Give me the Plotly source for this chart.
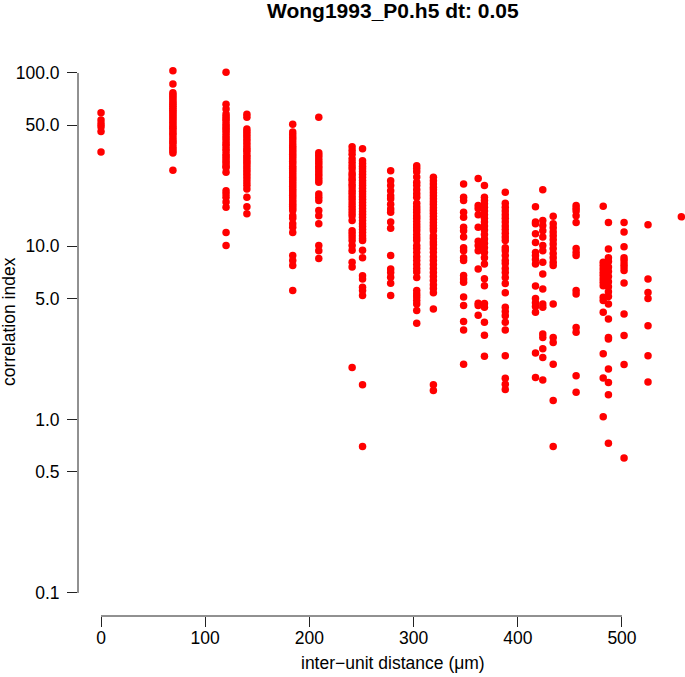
import plotly.graph_objects as go

# Inter-unit distances (um) and correlation indices
ci_0 = [59, 53.5, 51, 49, 46, 35]
ci_69 = [103, 86.5, 77, 75, 73, 71, 69, 67, 65.5, 64, 62.5, 61, 59.5, 58, 56.5, 55, 53.5,
         52, 50.5, 49, 48, 46.5, 45, 44, 42.5, 41, 40, 39, 37.5, 36.5, 35.5, 34.5, 27.5]
ci_120 = [101, 66, 62, 58, 56, 54.5, 53, 51, 49.5, 48, 46.5, 45, 43.5, 42, 40.5, 39, 38,
          36.5, 35.5, 34, 33, 32, 31, 30, 29, 28.5, 26.7, 20.9, 20.1, 19.2, 18.0, 16.8, 12.0, 10.1]
ci_140 = [57.8, 55.5, 47.5, 46, 44.5, 43, 41.5, 40, 38.5, 37, 36, 35, 33.5, 32.5, 31.5, 30.5,
          29.5, 28.5, 27.5, 26.5, 25.5, 24.5, 23.5, 22.5, 21.4, 19.2, 16.9, 15.4]
ci_184 = [50.6, 45.6, 44, 42.5, 41, 39.5, 38, 37, 36, 35, 34, 33, 32, 31, 30, 29, 28.2, 27.4,
          26.6, 25.8, 25, 24.3, 23.6, 22.9, 22.2, 21.5, 20.9, 20.3, 19.7, 19.1, 18.5, 18, 17.5,
          17, 16.5, 16.1, 15.0, 14.5, 13.5, 12.9, 12.0, 8.85, 8.27, 7.74, 5.55]
ci_209 = [55.5, 34.7, 33.5, 32.3, 31.2, 30.1, 29, 28, 27, 26, 25.1, 24.2, 23.4, 20.0, 19.2,
          18.4, 16.1, 15.0, 13.5, 10.1, 9.44, 8.5]
ci_241 = [37.5, 35.7, 34, 32, 30.5, 29.2, 28, 26.5, 25.6, 24.5, 23.9, 22.8, 22.0, 21, 20.2,
          19.4, 18.6, 17.8, 17.0, 16.3, 15.6, 15.0, 14.1, 12.3, 11.8, 11.3, 10.8, 10.1, 9.5,
          8.1, 7.6, 2.0]
ci_251 = [36.6, 31.2, 30, 29, 28, 27, 26, 25, 24, 23.2, 22.4, 21.6, 20.8, 20, 19.3, 18.6,
          17.9, 17.2, 16.5, 15.9, 15.3, 14.7, 14.1, 13.5, 13, 12.5, 12, 11.5, 11.1, 10.8, 9.5,
          8.6, 6.77, 6.48, 5.8, 5.55, 5.2, 1.59, 0.70]
ci_278 = [27.3, 23.9, 22.4, 20.9, 19.6, 18.8, 17.5, 16.4, 15.7, 13.8, 12.7, 8.85, 7.4, 7.07,
          6.63, 6.12, 5.2]
ci_303 = [29.2, 28.1, 26.9, 25.1, 23.4, 22.4, 21.2, 20.1, 19.2, 17.7, 16.9, 16.3, 15.7, 15.0,
          14.5, 13.9, 13.3, 12.8, 12.3, 11.7, 11.2, 10.8, 10.1, 9.7, 9.2, 8.7, 8.27, 7.85, 7.45,
          7.1, 6.6, 5.55, 5.3, 5.1, 4.86, 4.65, 4.26, 3.6]
ci_319 = [25.0, 23.9, 22.9, 21.9, 21.2, 20.4, 19.6, 18.8, 18.1, 17.4, 16.7, 16.1, 15.5, 14.9,
          14.3, 13.7, 13.2, 12.7, 12.3, 11.5, 11.1, 10.6, 10.2, 9.7, 9.2, 8.7, 8.27, 7.85, 7.45,
          7.05, 6.7, 6.34, 6.0, 5.7, 5.4, 4.35, 1.59, 1.47]
ci_348 = [22.9, 19.2, 18.4, 15.7, 14.7, 12.9, 12.3, 11.3, 9.8, 9.44, 8.6, 8.27, 6.78, 6.48,
          6.2, 5.1, 4.55, 3.68, 3.29, 2.09]
ci_362 = [24.6, 17.2, 16.5, 15.2, 12.9, 10.7, 10.1, 9.44, 7.4, 4.7, 4.55, 4.0]
ci_368 = [22.4, 19.2, 18.4, 17.6, 16.8, 16, 15.2, 14.5, 13.8, 13.1, 12.4, 11.7, 11, 10.4, 9.8,
          9.2, 8.6, 7.9, 6.5, 5.93, 4.67, 4.45, 3.64, 3.07, 2.32]
ci_388 = [20.5, 17.7, 16.8, 16, 15.2, 14.5, 13.8, 13.1, 12.5, 11.9, 11.3, 10.8, 9.8, 9.44,
          8.84, 8.27, 7.95, 7.45, 7.05, 6.6, 6.1, 5.4, 4.45, 4.2, 3.98, 3.64, 3.29, 2.34, 1.73,
          1.6, 1.49]
ci_417 = [16.9, 13.8, 13.5, 11.8, 10.5, 9.2, 8.84, 8.4, 7.9, 5.9, 5.0, 4.73, 4.49, 4.16, 2.42,
          1.75]
ci_424 = [21.2, 14.1, 13.2, 12.3, 11.3, 10.1, 9.44, 8.1, 6.93, 5.67, 4.65, 4.45, 3.12, 2.98,
          2.56, 2.28, 1.69]
ci_434 = [14.9, 13.5, 12.8, 12.1, 11.5, 10.9, 10.3, 9.7, 9.1, 8.6, 8.1, 7.74, 4.65, 2.98, 2.79,
          2.09, 1.29, 0.70]
ci_456 = [17.2, 16.6, 16.0, 15.0, 13.7, 9.7, 9.2, 8.84, 5.55, 5.3, 3.4, 3.19, 1.79, 1.44]
ci_482 = [17.0, 8.1, 7.74, 7.4, 7.07, 6.78, 6.48, 6.2, 5.93, 5.08, 4.86, 4.16, 2.4, 1.74, 1.04]
ci_487 = [13.7, 9.65, 8.6, 8.16, 7.6, 7.15, 6.7, 6.25, 5.85, 5.47, 5.13, 4.65, 3.81, 2.98,
          2.92, 1.96, 1.64, 1.39, 0.73]
ci_502 = [13.7, 12.1, 9.95, 8.6, 8.27, 7.9, 7.6, 7.24, 6.15, 4.07, 3.06, 2.08, 0.60]
ci_525 = [13.3, 6.48, 5.42, 5.0, 3.48, 2.34, 1.65]
ci_557 = [14.8]

distances = [0, 69, 120, 140, 184, 209, 241, 251, 278, 303, 319, 348, 362, 368, 388, 417,
             424, 434, 456, 482, 487, 502, 525, 557]
columns = [ci_0, ci_69, ci_120, ci_140, ci_184, ci_209, ci_241, ci_251, ci_278, ci_303,
           ci_319, ci_348, ci_362, ci_368, ci_388, ci_417, ci_424, ci_434, ci_456, ci_482,
           ci_487, ci_502, ci_525, ci_557]

x_ticks = [0, 100, 200, 300, 400, 500]
y_ticks = [0.1, 0.5, 1, 5, 10, 50, 100]
y_ticktext = ["0.1", "0.5", "1.0", "5.0", "10.0", "50.0", "100.0"]

xs, ys = [], []
for d, col in zip(distances, columns):
    xs.extend([d] * len(col))
    ys.extend(col)

FONT = "Liberation Sans, Arial, Helvetica, sans-serif"

fig = go.Figure()
fig.add_trace(go.Scatter(
    x=xs, y=ys, mode="markers",
    marker=dict(color="#ff0000", size=7.5, line=dict(width=0)),
    cliponaxis=False, showlegend=False, hoverinfo="x+y",
))

fig.update_layout(
    width=685, height=677,
    margin=dict(l=78, r=0, t=52, b=61, autoexpand=False),
    paper_bgcolor="white", plot_bgcolor="white",
    font=dict(family=FONT, size=17.5, color="black"),
    xaxis=dict(
        range=[-22.1, 560.5], showgrid=False, zeroline=False, showline=False,
        tickmode="array", tickvals=x_ticks, ticks="outside", ticklen=10,
        tickwidth=1, tickcolor="#222", tickfont=dict(size=17.5, color="black"),
        ticklabelstandoff=-4, automargin=False,
    ),
    yaxis=dict(
        type="log", range=[-1.133, 2.121], showgrid=False, zeroline=False,
        showline=False, tickmode="array", tickvals=y_ticks, ticktext=y_ticktext,
        ticks="outside", ticklen=10, tickwidth=1, tickcolor="#222",
        tickfont=dict(size=17.5, color="black"), ticklabelstandoff=4,
        automargin=False,
    ),
    shapes=[
        dict(type="line", xref="x", yref="paper", x0=0, x1=500, y0=0, y1=0,
             line=dict(color="#222", width=1)),
        dict(type="line", xref="paper", yref="y", x0=0, x1=0, y0=0.1, y1=100,
             line=dict(color="#222", width=1)),
    ],
    annotations=[
        dict(text="<b>Wong1993_P0.h5 dt: 0.05</b>", xref="paper", yref="paper",
             x=0.519, y=1.0727, xanchor="center", yanchor="middle", showarrow=False,
             font=dict(size=21, color="black", family=FONT)),
        dict(text="inter\u2212unit distance (\u03bcm)", xref="paper", yref="paper",
             x=0.519, y=-0.0833, xanchor="center", yanchor="middle", showarrow=False,
             font=dict(size=17.5, color="black", family=FONT)),
        dict(text="correlation index", xref="paper", yref="paper", textangle=-90,
             x=-0.1137, y=0.523, xanchor="center", yanchor="middle", showarrow=False,
             font=dict(size=17.5, color="black", family=FONT)),
    ],
)

# remove the browser's default 8px body margin so the figure fills the window
fig.write_html(
    "out.html",
    config={"displayModeBar": False},
    post_script="document.body.style.margin='0';document.body.style.overflow='hidden';",
)
